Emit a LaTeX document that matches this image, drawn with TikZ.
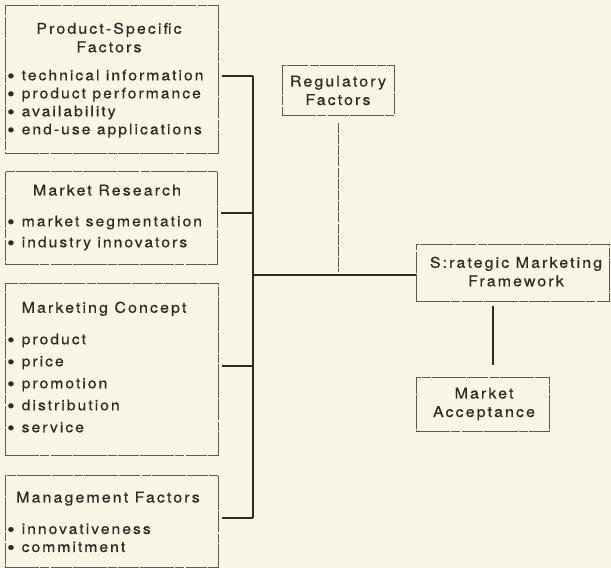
\documentclass[tikz,border=0pt]{standalone}
\usepackage{fontspec}
\setmainfont{TeX Gyre Heros}[LetterSpace=14, FakeStretch=1.08, FakeBold=0.6]
\definecolor{paper}{HTML}{FAF6E5}
\definecolor{ink}{HTML}{2E2C2A}
\definecolor{rule}{HTML}{5A5856}
\newcommand\bulitem{\makebox[14.5pt][l]{\raisebox{-2.3pt}{\scalebox{1.35}{\textbullet}}}}
\tikzset{
  box/.style={draw=rule, line width=0.75pt,
    dash pattern=on 34pt off 1pt on 9pt off 1.5pt on 21pt off 1pt,
    inner sep=0pt, anchor=north west},
  heading/.style={inner sep=0pt, anchor=north, align=center, text=ink,
    font=\fontsize{14.8}{18.5}\selectfont},
  items/.style={inner sep=0pt, anchor=north west, align=left, text=ink,
    font=\fontsize{14.5}{#1}\selectfont},
  link/.style={draw=ink, line width=1.1pt},
  reglink/.style={draw=ink!80, line width=0.6pt, dash pattern=on 10pt off 1.2pt}
}
\begin{document}
\begin{tikzpicture}[x=1pt,y=-1pt]
\fill[paper] (0,0) rectangle (611,568);
\useasboundingbox (0,0) rectangle (611,568);

% left-hand factor boxes
\node[box, minimum width=213pt, minimum height=148pt] (psf) at (5,5) {};
\node[heading] (psfT) at (109,22.5) {Product-Specific\\Factors};
\node[items=18] (psfL) at (7,69.5) {\bulitem technical information\\
  \bulitem product performance\\ \bulitem availability\\ \bulitem end-use applications};

\node[box, minimum width=212pt, minimum height=93pt] (mr) at (5,171) {};
\node[heading] (mrT) at (107,184.5) {Market Research};
\node[items=21] (mrL) at (7,215.5) {\bulitem market segmentation\\ \bulitem industry innovators};

\node[box, minimum width=213pt, minimum height=172pt] (mc) at (5,283) {};
\node[heading] (mcT) at (104,301.5) {Marketing Concept};
\node[items=22] (mcL) at (7,333.5) {\bulitem product\\ \bulitem price\\ \bulitem promotion\\
  \bulitem distribution\\ \bulitem service};

\node[box, minimum width=213pt, minimum height=92pt] (mf) at (5,475) {};
\node[heading] (mfT) at (108,491.5) {Management Factors};
\node[items=18] (mfL) at (7,523.5) {\bulitem innovativeness\\ \bulitem commitment};

% right-hand boxes
\node[box, minimum width=112pt, minimum height=50pt] (reg) at (282,65) {};
\node[heading] (regT) at (338,75.5) {Regulatory\\Factors};

\node[box, minimum width=193pt, minimum height=57pt] (smf) at (416,244) {};
\node[heading] (smfT) at (516,256.5) {S:rategic Marketing\\Framework};

\node[box, minimum width=133pt, minimum height=54pt] (acc) at (416,377) {};
\node[heading] (accT) at (484,387.5) {Market\\Acceptance};

% collecting bus
\coordinate (busN) at (253,76);
\coordinate (busM) at (253,275);
\coordinate (busS) at (253,518);
\coordinate (axis) at (493,0);

\draw[link] (busN) -- (busS);
\draw[link] (psf.east |- busN) ++(3,0) -- (busN);
\draw[link] (mr.east |- 0,213) ++(3,0) -- (253,213);
\draw[link] (mc.east |- 0,366) ++(3,0) -- (253,366);
\draw[link] (mf.east |- busS) ++(3,0) -- (busS);
\draw[link] (busM) -- (smf.west |- busM);

\draw[reglink, shorten >=3pt] ([yshift=-7pt]reg.south) -- (reg.south |- busM);
\draw[link, shorten <=4pt, shorten >=12pt] (axis |- smf.south) -- (axis |- acc.north);
\end{tikzpicture}
\end{document}
